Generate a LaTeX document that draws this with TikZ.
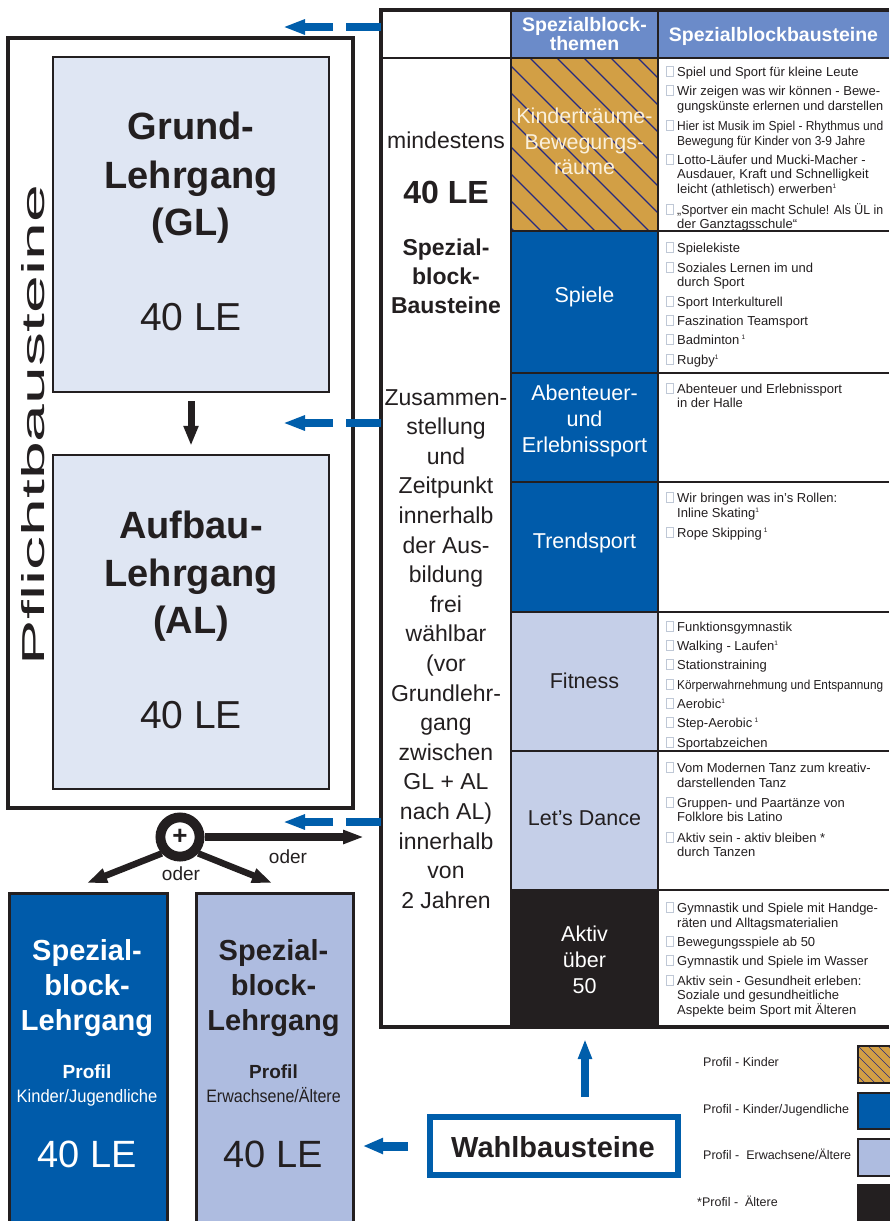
\documentclass[tikz,border=0pt]{standalone}
\usepackage{fontspec}
\usepackage{graphicx}
\setmainfont{Liberation Sans}
\setsansfont{Liberation Sans}
\usetikzlibrary{arrows.meta}
\definecolor{dk}{HTML}{231F20}
\definecolor{dblue}{HTML}{005BAA}
\definecolor{lblue}{HTML}{C5CFE8}
\definecolor{mblue}{HTML}{AEBCE0}
\definecolor{pale}{HTML}{DFE6F3}
\definecolor{hdr}{HTML}{6B8BC9}
\definecolor{ochre}{HTML}{D29F45}
\definecolor{navy}{HTML}{262A80}
\definecolor{arrblue}{HTML}{005EAB}
\definecolor{bulc}{HTML}{BFC8D6}
\definecolor{cream}{HTML}{FAF0DC}
\newcommand{\fsz}[1]{\fontsize{#1}{#1}\selectfont}
\newlength\fitw
\newcommand{\fitto}[2]{\settowidth{\fitw}{#2}\ifdim\fitw>#1\resizebox{#1}{\height}{#2}\else #2\fi}
\newcommand{\tline}[5]{\node[inner sep=0pt, anchor=base, #4] (#1) at (#2,#3) {#5};}
\newcommand{\bitem}[3]{\draw[bul] (666,#2) rectangle (673,#2-10); \node[itm] (#1) at (677,#2) {\fitto{206pt}{#3}};}
\newcommand{\cont}[3]{\node[itm] (#1) at (677,#2) {\fitto{206pt}{#3}};}
\newcommand{\sone}{\raisebox{4.5pt}{\fsz{6.5}1}}
\begin{document}
\begin{tikzpicture}[x=1pt,y=-1pt,
 itm/.style={inner sep=0pt, anchor=base west, font=\fsz{13}, text=dk},
 bul/.style={draw=bulc, line width=0.7pt},
 barrow/.style={draw=arrblue, line width=8pt, -{Triangle[length=22pt,width=14pt]}},
 karrow/.style={draw=dk, line width=7pt, -{Triangle[length=20pt,width=14pt]}},
 boxf/.style={draw=dk, line width=2.5pt, inner sep=0pt},
 rowline/.style={draw=dk, line width=2pt},
]
\useasboundingbox (0,0) rectangle (889,1221);
\fill[white] (0,0) rectangle (889,1221);

% ---------------- Pflichtbausteine ----------------
\node[boxf, line width=3.5pt, minimum width=345pt, minimum height=770pt] (pflicht) at (180.5,423) {};
\node[boxf, fill=pale, minimum width=276pt, minimum height=335pt] (grund) at (191,224.5) {};
\node[boxf, fill=pale, minimum width=276pt, minimum height=334pt] (aufbau) at (191,622) {};
\node[rotate=90, inner sep=0pt, text=dk] (pflt) at (33.5,425) {\resizebox{480pt}{23pt}{\fsz{30}Pflichtbausteine}};

\tline{g1}{191}{139}{font=\fsz{38}\bfseries, text=dk}{Grund-}
\tline{g2}{191}{188}{font=\fsz{38}\bfseries, text=dk}{Lehrgang}
\tline{g3}{191}{235}{font=\fsz{38}\bfseries, text=dk}{(GL)}
\tline{g4}{191}{330}{font=\fsz{39}, text=dk}{40 LE}
\tline{a1}{191}{538}{font=\fsz{38}\bfseries, text=dk}{Aufbau-}
\tline{a2}{191}{586}{font=\fsz{38}\bfseries, text=dk}{Lehrgang}
\tline{a3}{191}{633}{font=\fsz{38}\bfseries, text=dk}{(AL)}
\tline{a4}{191}{728}{font=\fsz{39}, text=dk}{40 LE}
\draw[karrow] ([yshift=-8pt]grund.south) -- ([yshift=8pt]aufbau.north);

% ---------------- table ----------------
\fill[hdr] (511,10) rectangle (889,58);
\fill[ochre] (511,58) rectangle (658,231);
\fill[dblue] (511,231) rectangle (658,612);
\fill[lblue] (511,612) rectangle (658,890);
\fill[dk] (511,890) rectangle (658,1027);
\begin{scope}
\clip (511,58) rectangle (658,231);
\foreach \k in {314,341,...,665} \draw[navy, line width=1.1pt] (\k,58) -- ++(200,200);
\end{scope}
\draw[dk, line width=4pt] (889,10) -- (381,10) -- (381,1027) -- (889,1027);
\draw[rowline] (381,58) -- (889,58);
\draw[dk, line width=2.5pt] (511,10) -- (511,1027) (658,10) -- (658,1027);
\foreach \r in {231,373,482,612,751,890} \draw[rowline] (511,\r) -- (889,\r);

\tline{h1}{584.5}{31}{font=\fsz{19.5}\bfseries, text=white}{Spezialblock-}
\tline{h2}{584.5}{50}{font=\fsz{19.5}\bfseries, text=white}{themen}
\tline{h3}{773.5}{41}{font=\fsz{19.5}\bfseries, text=white}{Spezialblockbausteine}

% left column
\tline{m1}{446}{148}{font=\fsz{23}, text=dk}{mindestens}
\tline{m2}{446}{203}{font=\fsz{32}\bfseries, text=dk}{40 LE}
\tline{m3}{446}{255}{font=\fsz{23}\bfseries, text=dk}{Spezial-}
\tline{m4}{446}{284}{font=\fsz{23}\bfseries, text=dk}{block-}
\tline{m5}{446}{313}{font=\fsz{23}\bfseries, text=dk}{Bausteine}
\foreach \t [count=\i] in {Zusammen-, stellung, und, Zeitpunkt, innerhalb, der Aus-, bildung, frei, wählbar, {(vor}, Grundlehr-, gang, zwischen, GL + AL, {nach AL)}, innerhalb, von, 2 Jahren}
  \node[inner sep=0pt, anchor=base, font=\fsz{23}, text=dk] (z\i) at (446,{405+29.6*(\i-1)}) {\t};

% theme texts
\tline{t1}{584.5}{123}{font=\fsz{21.5}, text=cream}{Kinderträume-}
\tline{t1b}{584.5}{149}{font=\fsz{21.5}, text=cream}{Bewegungs-}
\tline{t1c}{584.5}{174}{font=\fsz{21.5}, text=cream}{räume}
\tline{t2}{584.5}{302}{font=\fsz{21.5}, text=white}{Spiele}
\tline{t3}{584.5}{400}{font=\fsz{21.5}, text=white}{Abenteuer-}
\tline{t3b}{584.5}{426}{font=\fsz{21.5}, text=white}{und}
\tline{t3c}{584.5}{452}{font=\fsz{21.5}, text=white}{Erlebnissport}
\tline{t4}{584.5}{548}{font=\fsz{21.5}, text=white}{Trendsport}
\tline{t5}{584.5}{688}{font=\fsz{21.5}, text=dk}{Fitness}
\tline{t6}{584.5}{825}{font=\fsz{21.5}, text=dk}{Let’s Dance}
\tline{t7}{584.5}{941}{font=\fsz{21.5}, text=white}{Aktiv}
\tline{t7b}{584.5}{967}{font=\fsz{21.5}, text=white}{über}
\tline{t7c}{584.5}{993}{font=\fsz{21.5}, text=white}{50}

% items
\bitem{k1}{76}{Spiel und Sport für kleine Leute}
\bitem{k2}{95}{Wir zeigen was wir können - Bewe-}
\cont{k2b}{110}{gungskünste erlernen und darstellen}
\bitem{k3}{130}{Hier ist Musik im Spiel - Rhythmus und}
\cont{k3b}{145}{\scalebox{0.92}[1]{Bewegung für Kinder von 3-9 Jahre}}
\bitem{k4}{164}{Lotto-Läufer und Mucki-Macher -}
\cont{k4b}{178}{Ausdauer, Kraft und Schnelligkeit}
\cont{k4c}{193}{leicht (athletisch) erwerben\sone}
\bitem{k5}{214}{„Sportver ein macht Schule! Als ÜL in}
\cont{k5b}{228}{der Ganztagsschule“}

\bitem{s1}{252}{Spielekiste}
\bitem{s2}{272}{Soziales Lernen im und}
\cont{s2b}{286}{durch Sport}
\bitem{s3}{306}{Sport Interkulturell}
\bitem{s4}{325}{Faszination Teamsport}
\bitem{s5}{344}{Badminton\,\sone}
\bitem{s6}{364}{Rugby\sone}

\bitem{e1}{393}{Abenteuer und Erlebnissport}
\cont{e1b}{407}{in der Halle}

\bitem{r1}{502}{Wir bringen was in’s Rollen:}
\cont{r1b}{517}{Inline Skating\sone}
\bitem{r2}{537}{Rope Skipping\,\sone}

\bitem{f1}{631}{Funktionsgymnastik}
\bitem{f2}{650}{Walking - Laufen\sone}
\bitem{f3}{669}{Stationstraining}
\bitem{f4}{689}{Körperwahrnehmung und Entspannung}
\bitem{f5}{708}{Aerobic\sone}
\bitem{f6}{727}{Step-Aerobic\,\sone}
\bitem{f7}{747}{Sportabzeichen}

\bitem{d1}{772}{Vom Modernen Tanz zum kreativ-}
\cont{d1b}{787}{darstellenden Tanz}
\bitem{d2}{807}{Gruppen- und Paartänze von}
\cont{d2b}{821}{Folklore bis Latino}
\bitem{d3}{842}{Aktiv sein - aktiv bleiben *}
\cont{d3b}{856}{durch Tanzen}

\bitem{x1}{912}{Gymnastik und Spiele mit Handge-}
\cont{x1b}{927}{räten und Alltagsmaterialien}
\bitem{x2}{946}{Bewegungsspiele ab 50}
\bitem{x3}{965}{Gymnastik und Spiele im Wasser}
\bitem{x4}{985}{Aktiv sein - Gesundheit erleben:}
\cont{x4b}{999}{Soziale und gesundheitliche}
\cont{x4c}{1014}{Aspekte beim Sport mit Älteren}

% dashed blue arrows
\coordinate (d1s) at (381,27); \coordinate (d1e) at (283,27);
\coordinate (d2s) at (381,423); \coordinate (d2e) at (283,423);
\coordinate (d3s) at (381,822); \coordinate (d3e) at (283,822);
\foreach \a in {1,2,3}
  \draw[barrow, dash pattern=on 35pt off 13pt on 200pt off 0pt] (d\a s) -- (d\a e);

% ---------------- circle and oder ----------------
\node[circle, draw=dk, line width=9.8pt, minimum size=39.2pt, inner sep=0pt, fill=white, font=\fsz{26}\bfseries, text=dk] (plus) at (180,837) {+};
\coordinate (rt) at (364,837);
\coordinate (lt1) at (87,883);
\coordinate (lt2) at (272,883);
\draw[draw=dk, line width=8pt, -{Triangle[length=21pt,width=13pt]}] (plus.east) -- (rt);
\draw[draw=dk, line width=6.5pt, -{Triangle[length=20pt,width=14pt]}] (plus.222) -- (lt1);
\draw[draw=dk, line width=6.5pt, -{Triangle[length=20pt,width=14pt]}] (plus.318) -- (lt2);
\tline{o1}{288}{863}{font=\fsz{19}, text=dk}{oder}
\tline{o2}{181}{880}{font=\fsz{19}, text=dk}{oder}

% ---------------- bottom boxes ----------------
\node[boxf, fill=dblue, minimum width=158pt, minimum height=343pt, anchor=north west] (sb1) at (8,892) {};
\node[boxf, fill=mblue, minimum width=157pt, minimum height=343pt, anchor=north west] (sb2) at (195,892) {};
\tline{b1}{87}{960}{font=\fsz{29}\bfseries, text=white}{Spezial-}
\tline{b2}{87}{995}{font=\fsz{29}\bfseries, text=white}{block-}
\tline{b3}{87}{1030}{font=\fsz{29}\bfseries, text=white}{Lehrgang}
\tline{b4}{87}{1078}{font=\fsz{19}\bfseries, text=white}{Profil}
\tline{b5}{87}{1102}{font=\fsz{18}, text=white}{\scalebox{0.92}[1]{Kinder/Jugendliche}}
\tline{b6}{87}{1167}{font=\fsz{38}, text=white}{40 LE}
\tline{c1}{273.5}{960}{font=\fsz{29}\bfseries, text=dk}{Spezial-}
\tline{c2}{273.5}{995}{font=\fsz{29}\bfseries, text=dk}{block-}
\tline{c3}{273.5}{1030}{font=\fsz{29}\bfseries, text=dk}{Lehrgang}
\tline{c4}{273.5}{1078}{font=\fsz{19}\bfseries, text=dk}{Profil}
\tline{c5}{273.5}{1102}{font=\fsz{18}, text=dk}{\scalebox{0.89}[1]{Erwachsene/Ältere}}
\tline{c6}{273.5}{1167}{font=\fsz{38}, text=dk}{40 LE}

% ---------------- Wahlbausteine ----------------
\node[draw=arrblue, line width=5.5pt, minimum width=248pt, minimum height=58pt, inner sep=0pt, fill=white] (wahl) at (554,1146) {};
\tline{wt}{553}{1157}{font=\fsz{29}\bfseries, text=dk}{Wahlbausteine}
\coordinate (wu1) at (585,1097); \coordinate (wu2) at (585,1039);
\coordinate (wl1) at (408,1146); \coordinate (wl2) at (363,1146);
\draw[draw=arrblue, line width=8.5pt, -{Triangle[length=20pt,width=13pt]}] (wu1) -- (wu2);
\draw[draw=arrblue, line width=9pt, -{Triangle[length=20pt,width=15pt]}] (wl1) -- (wl2);

% ---------------- legend ----------------
\tline{l1}{703}{1066}{anchor=base west, font=\fsz{12.5}, text=dk}{Profil - Kinder}
\tline{l2}{703}{1113}{anchor=base west, font=\fsz{12.5}, text=dk}{Profil - Kinder/Jugendliche}
\tline{l3}{703}{1159}{anchor=base west, font=\fsz{12.5}, text=dk}{Profil -~ Erwachsene/Ältere}
\tline{l4}{697}{1206}{anchor=base west, font=\fsz{12.5}, text=dk}{*Profil -~ Ältere}
\fill[ochre] (858,1046) rectangle (895,1083);
\begin{scope}
\clip (858,1046) rectangle (895,1083);
\foreach \k in {818,828,...,900} \draw[navy, line width=0.7pt] (\k,1046) -- ++(50,50);
\end{scope}
\draw[dk, line width=2pt] (858,1046) rectangle (895,1083);
\draw[dk, line width=2pt, fill=dblue] (858,1093) rectangle (895,1129);
\draw[dk, line width=2pt, fill=mblue] (858,1139) rectangle (895,1176);
\draw[dk, line width=2pt, fill=dk] (858,1185) rectangle (895,1230);
\end{tikzpicture}
\end{document}
